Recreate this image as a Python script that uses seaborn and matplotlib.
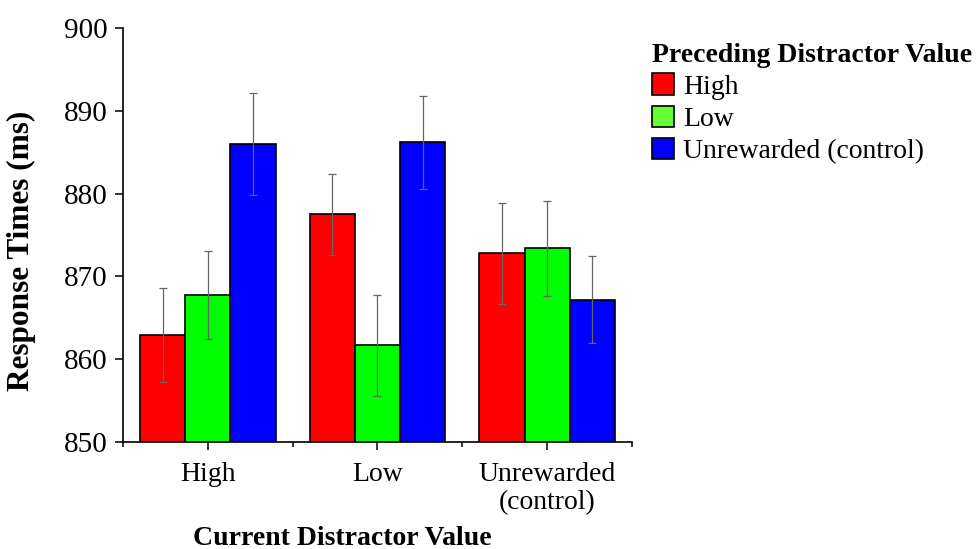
import numpy as np
import pandas as pd
import matplotlib
matplotlib.use("Agg")
import matplotlib.pyplot as plt
from matplotlib.ticker import FixedLocator
from matplotlib.patches import Patch
import seaborn as sns

# ---- data ----
current = ["High", "Low", "Unrewarded\n(control)"]
preceding = ["High", "Low", "Unrewarded (control)"]
rt_high = [862.9, 877.5, 872.8]
rt_low = [867.8, 861.7, 873.4]
rt_unrew = [886.0, 886.2, 867.2]
err_high = [5.7, 4.9, 6.1]
err_low = [5.3, 6.1, 5.7]
err_unrew = [6.2, 5.6, 5.3]
colors = ["#FF0000", "#00FF00", "#0000FF"]
legend_colors = ["#FF0000", "#66FF33", "#0000FF"]

rows = []
for vals, errs, p in zip([rt_high, rt_low, rt_unrew], [err_high, err_low, err_unrew], preceding):
    for c, v, e in zip(current, vals, errs):
        rows.append({"current": c, "preceding": p, "rt": v, "err": e})
df = pd.DataFrame(rows)

sns.set_theme(style="white")
plt.rcParams["font.family"] = ["Liberation Serif", "DejaVu Serif"]
plt.rcParams["text.color"] = "black"
plt.rcParams["axes.labelcolor"] = "black"

fig = plt.figure(figsize=(9.76, 5.49), dpi=100)
ax = fig.add_axes([0.126, 0.195, 0.5215, 0.7535])

sns.barplot(data=df, x="current", y="rt", hue="preceding", order=current,
            hue_order=preceding, palette=colors, errorbar=None, width=0.8,
            edgecolor="black", linewidth=1.2, ax=ax, legend=False, saturation=1)

# error bars at the bar centres
bars = [p for p in ax.patches if p.get_height() != 0]
for i, p_name in enumerate(preceding):
    sub = df[df["preceding"] == p_name].set_index("current").loc[current]
    for j, c in enumerate(current):
        bar = bars[i * len(current) + j]
        xc = bar.get_x() + bar.get_width() / 2
        ax.errorbar(xc, sub.loc[c, "rt"], yerr=sub.loc[c, "err"], fmt="none",
                    ecolor="#666666", elinewidth=0.9, capsize=2.6, capthick=0.9, zorder=5)

ax.set_ylim(850, 900)
ax.set_xlim(-0.5, 2.5)
ax.set_yticks([850, 860, 870, 880, 890, 900])
ax.xaxis.set_minor_locator(FixedLocator([-0.5, 0.5, 1.5, 2.5]))

for s in ["top", "right"]:
    ax.spines[s].set_visible(False)
for s in ["left", "bottom"]:
    ax.spines[s].set_color("black")
    ax.spines[s].set_linewidth(1.2)

ax.tick_params(axis="y", which="major", direction="out", length=6, width=1.1,
               colors="black", labelsize=21, pad=5, left=True)
ax.tick_params(axis="x", which="major", direction="out", length=5.5, width=1.1,
               colors="black", labelsize=20, pad=9, bottom=True)
ax.tick_params(axis="x", which="minor", direction="out", length=3.5, width=1.1,
               colors="black", bottom=True)
for lab in ax.get_xticklabels():
    lab.set_linespacing(1.15)

ax.set_xlabel("Current Distractor Value", fontsize=20, fontweight="bold", color="black")
ax.set_ylabel("Response Times (ms)", fontsize=22.5, fontweight="bold", color="black")
ax.xaxis.set_label_coords(0.43, -0.202)
ax.yaxis.set_label_coords(-0.17, 0.462)

handles = [Patch(facecolor=c, edgecolor="black", linewidth=1.2) for c in legend_colors]
leg = fig.legend(handles, preceding, title="Preceding Distractor Value",
                 loc="upper left", bbox_to_anchor=(0.668, 0.922), frameon=False,
                 fontsize=20, handlelength=0.8, handleheight=0.8, handletextpad=0.33,
                 labelspacing=0.22, borderaxespad=0, borderpad=0)
leg.get_title().set_fontweight("bold")
leg.get_title().set_fontsize(20)
leg.get_title().set_color("black")
for t in leg.get_texts():
    t.set_color("black")
leg._legend_box.align = "left"
leg._legend_box.sep = 4

fig.savefig("out.png", dpi=100)
